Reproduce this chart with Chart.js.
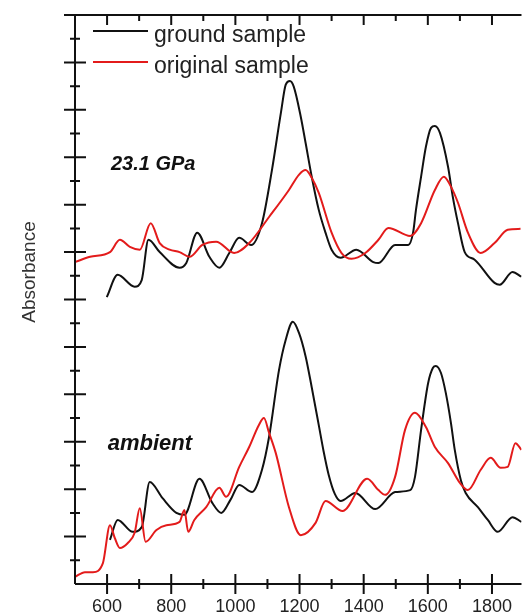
<!DOCTYPE html>
<html>
<head>
<meta charset="utf-8">
<script src="https://cdn.jsdelivr.net/npm/chart.js@4.4.0/dist/chart.umd.min.js"></script>
<style>
  html, body { margin: 0; padding: 0; background: #fff; }
  #wrap { width: 524px; height: 616px; }
</style>
</head>
<body>
<div id="wrap"><canvas id="chart" width="524" height="616"></canvas></div>
<script>
// data (wavenumber / absorbance, offset curves)
const seriesNames = ["ground sample", "original sample"];
const panelNames = ["23.1 GPa", "ambient"];
const yTitle = "Absorbance";
const xTickLabels = [600, 800, 1000, 1200, 1400, 1600, 1800];

// 23.1 GPa - ground
const hpGroundX = [599, 633, 686, 708, 729, 764, 826, 847, 881, 919, 950, 981, 1012, 1049, 1083, 1114, 1142, 1157, 1170, 1182, 1204, 1219, 1238, 1260, 1281, 1300, 1328, 1377, 1430, 1446, 1498, 1539, 1554, 1563, 1579, 1594, 1610, 1622, 1638, 1663, 1678, 1694, 1715, 1746, 1808, 1824, 1864, 1892];
const hpGroundY = [6.05, 6.52, 6.27, 6.41, 7.26, 7.00, 6.67, 6.77, 7.41, 6.90, 6.67, 6.98, 7.30, 7.15, 7.61, 8.73, 9.94, 10.53, 10.61, 10.49, 9.85, 9.30, 8.59, 7.89, 7.41, 7.05, 6.88, 7.05, 6.79, 6.77, 7.15, 7.15, 7.41, 7.89, 8.59, 9.22, 9.62, 9.66, 9.51, 8.80, 8.16, 7.61, 7.00, 6.84, 6.35, 6.31, 6.58, 6.48];

// 23.1 GPa - original
const hpOrigX = [500, 547, 609, 640, 671, 702, 736, 764, 795, 826, 857, 897, 940, 996, 1043, 1105, 1167, 1198, 1219, 1238, 1260, 1300, 1331, 1362, 1405, 1446, 1477, 1545, 1579, 1622, 1650, 1672, 1694, 1725, 1765, 1808, 1849, 1889];
const hpOrigY = [6.79, 6.90, 7.00, 7.26, 7.11, 7.05, 7.61, 7.19, 7.05, 7.00, 6.90, 7.15, 7.22, 6.98, 7.19, 7.74, 8.31, 8.63, 8.73, 8.57, 8.25, 7.41, 6.98, 6.86, 6.98, 7.26, 7.51, 7.34, 7.61, 8.31, 8.59, 8.38, 8.04, 7.41, 6.98, 7.19, 7.47, 7.49];

// ambient - ground
const ambGroundX = [609, 633, 680, 708, 733, 773, 816, 841, 888, 928, 956, 985, 1012, 1052, 1083, 1105, 1136, 1157, 1179, 1198, 1219, 1238, 1260, 1275, 1291, 1310, 1328, 1374, 1436, 1498, 1545, 1560, 1579, 1601, 1616, 1625, 1641, 1656, 1672, 1684, 1703, 1718, 1756, 1787, 1818, 1864, 1892];
const ambGroundY = [0.93, 1.35, 1.10, 1.20, 2.15, 1.81, 1.50, 1.46, 2.22, 1.71, 1.50, 1.78, 2.09, 1.94, 2.41, 3.10, 4.51, 5.15, 5.53, 5.30, 4.80, 4.15, 3.35, 2.80, 2.30, 1.90, 1.75, 1.92, 1.58, 1.94, 1.98, 2.26, 3.25, 4.24, 4.56, 4.60, 4.45, 4.03, 3.40, 2.83, 2.19, 1.92, 1.62, 1.35, 1.10, 1.41, 1.31];

// ambient - original
const ambOrigX = [500, 531, 556, 587, 609, 624, 640, 664, 686, 702, 720, 754, 785, 826, 841, 853, 872, 909, 950, 971, 1012, 1043, 1073, 1089, 1105, 1126, 1167, 1204, 1250, 1281, 1334, 1411, 1446, 1467, 1498, 1529, 1560, 1594, 1622, 1663, 1700, 1725, 1765, 1796, 1827, 1849, 1873, 1892];
const ambOrigY = [0.15, 0.25, 0.25, 0.44, 1.24, 0.97, 0.76, 0.86, 1.08, 1.60, 0.89, 1.14, 1.24, 1.31, 1.56, 1.10, 1.35, 1.62, 2.03, 1.84, 2.47, 2.89, 3.35, 3.50, 3.19, 2.76, 1.62, 1.03, 1.29, 1.75, 1.54, 2.22, 1.98, 1.88, 2.26, 3.25, 3.61, 3.31, 2.89, 2.55, 2.13, 1.98, 2.41, 2.66, 2.45, 2.47, 2.97, 2.83];

const BLACK = "#111";
const RED = "#e31b1b";
const FONT = "'Liberation Sans', Arial, sans-serif";

function puntos(xs, ys) {
  return xs.map((x, i) => ({ x: x, y: ys[i] }));
}

function serie(xs, ys, color) {
  return {
    data: puntos(xs, ys),
    borderColor: color,
    borderWidth: 2,
    pointRadius: 0,
    fill: false,
    cubicInterpolationMode: "monotone",
  };
}

// frame, ticks, legend and labels
const extras = {
  id: "extras",
  afterDraw(chart) {
    const { ctx, chartArea: a } = chart;
    const x = chart.scales.x;
    const y = chart.scales.y;
    ctx.save();
    ctx.strokeStyle = BLACK;
    ctx.lineWidth = 2;
    ctx.beginPath();
    ctx.moveTo(a.left, a.bottom);
    ctx.lineTo(a.left, a.top);
    ctx.lineTo(a.right, a.top);
    ctx.moveTo(a.left, a.bottom);
    ctx.lineTo(a.right, a.bottom);

    for (let v = 600; v <= 1900; v += 100) {
      const px = x.getPixelForValue(v);
      if (px > a.right) break;
      const major = v % 200 === 0;
      const l = major ? 10 : 5;
      ctx.moveTo(px, a.bottom - l);
      ctx.lineTo(px, a.bottom + l);
      ctx.moveTo(px, a.top);
      ctx.lineTo(px, a.top + (major ? 10 : 6));
    }
    for (let v = 0.5; v <= 12; v += 0.5) {
      const py = y.getPixelForValue(v);
      const l = v % 1 === 0 ? 11 : 5;
      ctx.moveTo(a.left - l, py);
      ctx.lineTo(a.left + l, py);
    }
    ctx.stroke();

    // legend
    const colores = [BLACK, RED];
    ctx.font = "23px " + FONT;
    ctx.fillStyle = "#222";
    ctx.textBaseline = "alphabetic";
    seriesNames.forEach((nombre, i) => {
      const ly = 31 + i * 31;
      ctx.strokeStyle = colores[i];
      ctx.lineWidth = 2;
      ctx.beginPath();
      ctx.moveTo(93, ly);
      ctx.lineTo(148, ly);
      ctx.stroke();
      ctx.fillText(nombre, 154, ly + 11);
    });

    // panel labels
    ctx.font = "italic bold 20px " + FONT;
    ctx.fillStyle = "#111";
    ctx.fillText(panelNames[0], x.getPixelForValue(612), y.getPixelForValue(8.73));
    ctx.font = "italic bold 22px " + FONT;
    ctx.fillText(panelNames[1], x.getPixelForValue(602), y.getPixelForValue(2.83));

    // y title
    ctx.save();
    ctx.translate(30, 272);
    ctx.rotate(-Math.PI / 2);
    ctx.font = "19px " + FONT;
    ctx.fillStyle = "#333";
    ctx.textAlign = "center";
    ctx.textBaseline = "middle";
    ctx.fillText(yTitle, 0, 0);
    ctx.restore();
    ctx.restore();
  },
};

new Chart(document.getElementById("chart"), {
  type: "line",
  data: {
    datasets: [
      serie(hpOrigX, hpOrigY, RED),
      serie(ambOrigX, ambOrigY, RED),
      serie(hpGroundX, hpGroundY, BLACK),
      serie(ambGroundX, ambGroundY, BLACK),
    ],
  },
  options: {
    responsive: false,
    animation: false,
    devicePixelRatio: 1,
    layout: { padding: { top: 15, right: 0, bottom: 0, left: 0 } },
    plugins: { legend: { display: false }, tooltip: { enabled: false } },
    scales: {
      x: {
        type: "linear",
        min: 500,
        max: 1892,
        grid: { display: false, drawTicks: false },
        border: { display: false },
        ticks: {
          padding: 12,
          color: "#222",
          font: { family: FONT, size: 18 },
          maxRotation: 0,
          callback: (v) => String(v),
        },
        afterBuildTicks: (s) => {
          s.ticks = xTickLabels.map((v) => ({ value: v }));
        },
        afterFit: (s) => {
          s.height = 32;
        },
      },
      y: {
        min: 0,
        max: 12,
        grid: { display: false, drawTicks: false },
        border: { display: false },
        ticks: { display: false },
        afterFit: (s) => {
          s.width = 75;
        },
      },
    },
  },
  plugins: [extras],
});
</script>
</body>
</html>
